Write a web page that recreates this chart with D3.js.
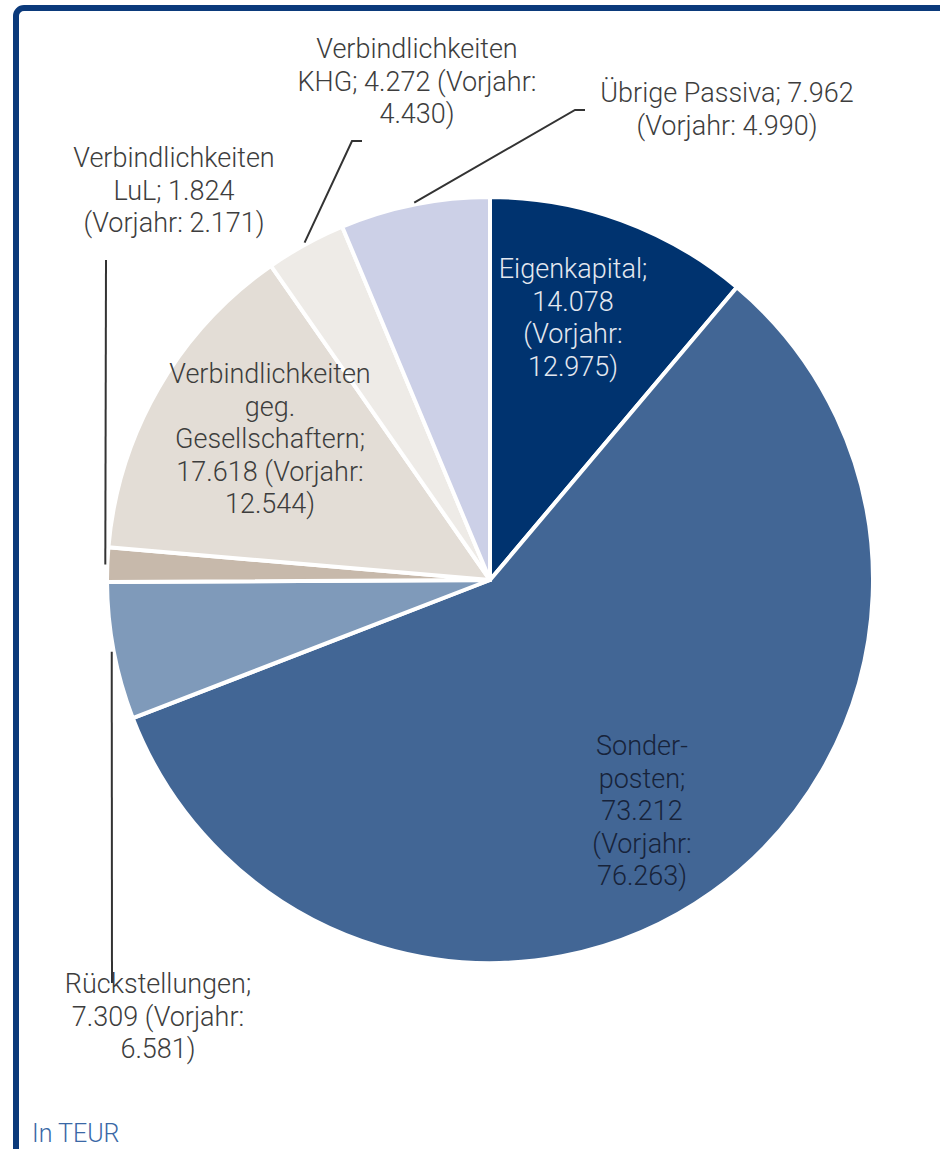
<!DOCTYPE html>
<html>
<head>
<meta charset="utf-8">
<script src="https://cdn.jsdelivr.net/npm/d3@7"></script>
<style>
  body { margin: 0; background: #fff; }
  svg { display: block; font-family: Roboto, "Noto Sans", sans-serif; font-weight: 300; }
</style>
</head>
<body>
<svg id="chart"></svg>
<script>
// Passiva, in TEUR
let categories = ['Eigenkapital', 'Sonder-posten', 'Rückstellungen', 'Verbindlichkeiten LuL',
                  'Verbindlichkeiten geg. Gesellschaftern', 'Verbindlichkeiten KHG', 'Übrige Passiva'];
let values = [14078, 73212, 7309, 1824, 17618, 4272, 7962];
let priorValues = [12975, 76263, 6581, 2171, 12544, 4430, 4990];
let colors = ['#00336f', '#426695', '#7f9aba', '#c7b9ab', '#e3ddd6', '#eeebe7', '#ccd0e7'];
let textColors = ['#e4e8f0', '#17233a', '#3d3d3d', '#3d3d3d', '#3d3d3d', '#3d3d3d', '#3d3d3d'];

let svgWidth = 940,
    svgHeight = 1149;

let cx = 490, cy = 580, radius = 383;
let fontSize = 27, lineHeight = 32.5;

// label blocks: centre x, first baseline y, wrap width
let labelLayout = [
  { x: 573, y: 278, wrap: 168 },
  { x: 642, y: 755, wrap: 130 },
  { x: 158, y: 993, wrap: 215 },
  { x: 174, y: 167, wrap: 220 },
  { x: 270, y: 383, wrap: 225 },
  { x: 417, y: 58, wrap: 262 },
  { x: 727, y: 102, wrap: 270 }
];

// leader lines (only for outside labels): elbow points after the slice edge
let leaders = [
  null,
  null,
  [[112, 983]],
  [[106, 260]],
  null,
  [[352, 141], [362, 141]],
  [[575, 110], [585, 110]]
];

let de = d3.formatLocale({ decimal: ',', thousands: '.', grouping: [3], currency: ['', ' €'] });
let fmt = de.format(',d');

let svg = d3.select('#chart')
            .attr('width', svgWidth)
            .attr('height', svgHeight);

// frame
svg.append('rect')
   .attr('x', 16)
   .attr('y', 8)
   .attr('width', 1000)
   .attr('height', 1400)
   .attr('rx', 8)
   .attr('fill', 'none')
   .attr('stroke', '#0b3a7b')
   .attr('stroke-width', 6);

let data = categories.map((c, i) => ({ name: c, value: values[i], prior: priorValues[i], i: i }));

let pie = d3.pie().value(d => d.value).sort(null);
let arcs = pie(data);
let arc = d3.arc().innerRadius(0).outerRadius(radius);

let g = svg.append('g').attr('transform', `translate(${cx},${cy})`);

g.selectAll('path')
 .data(arcs)
 .join('path')
 .attr('d', arc)
 .attr('fill', d => colors[d.data.i])
 .attr('stroke', '#fff')
 .attr('stroke-width', 4)
 .attr('stroke-linejoin', 'round');

// leader lines start at the slice's mid angle on the rim
arcs.forEach(d => {
  let pts = leaders[d.data.i];
  if (!pts) return;
  let a = (d.startAngle + d.endAngle) / 2;
  let start = [cx + (radius + 2) * Math.sin(a), cy - (radius + 2) * Math.cos(a)];
  svg.append('path')
     .attr('d', d3.line()([start].concat(pts)))
     .attr('fill', 'none')
     .attr('stroke', '#333')
     .attr('stroke-width', 2);
});

// labels, wrapped into lines
data.forEach(d => {
  let lay = labelLayout[d.i];
  let full = `${d.name}; ${fmt(d.value)} (Vorjahr: ${fmt(d.prior)})`;
  let words = full.replace('-', '- ').split(' ');
  let text = svg.append('text')
                .attr('text-anchor', 'middle')
                .attr('font-size', fontSize)
                .attr('fill', textColors[d.i]);
  let lines = [], cur = '';
  let probe = svg.append('text').attr('font-size', fontSize).attr('font-weight', 300);
  words.forEach(w => {
    let trial = cur ? (cur.endsWith('-') ? cur + w : cur + ' ' + w) : w;
    probe.text(trial);
    if (cur && probe.node().getComputedTextLength() > lay.wrap) {
      lines.push(cur);
      cur = w;
    } else {
      cur = trial;
    }
  });
  lines.push(cur);
  probe.remove();
  lines.forEach((l, k) => {
    text.append('tspan')
        .attr('x', lay.x)
        .attr('y', lay.y + k * lineHeight)
        .text(l);
  });
});

svg.append('text')
   .attr('x', 32)
   .attr('y', 1142)
   .attr('font-size', 25)
   .attr('fill', '#3a68a6')
   .text('In TEUR');
</script>
</body>
</html>
